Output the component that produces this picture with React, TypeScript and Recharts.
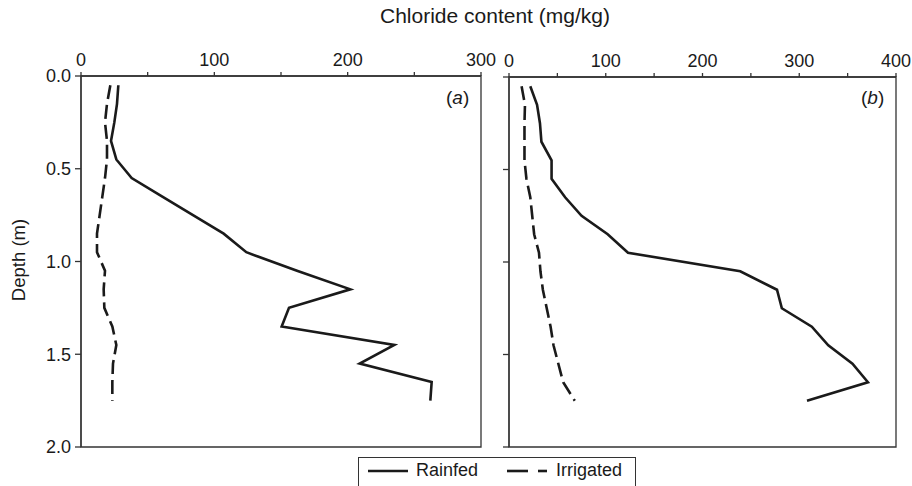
import { LineChart, Line, XAxis, YAxis, ReferenceArea } from 'recharts'

// depth of each sample (m)
const depths = [0.05, 0.15, 0.25, 0.35, 0.45, 0.55, 0.65, 0.75, 0.85, 0.95, 1.05, 1.15, 1.25, 1.35, 1.45, 1.55, 1.65, 1.75]

// chloride content (mg/kg)
const rainfedA = [28, 27, 25, 22.5, 26.5, 38, 61, 84, 107, 124, 162, 202, 156, 150.5, 235, 209, 263, 262]
const irrigatedA = [22, 19.5, 18, 19.5, 19.5, 18, 16, 14, 12, 12, 18, 17, 17.5, 23.5, 26.5, 24, 23.5, 23.5]
const rainfedB = [22, 29, 32, 33.5, 44, 44, 58, 75, 102, 123, 239, 277, 282, 313, 330, 355, 371, 308]
const irrigatedB = [13, 16.5, 16, 16, 16, 18, 22, 24, 26, 31, 32.5, 35, 39, 43, 46, 51, 56, 68]

const depthTicks = [0, 0.5, 1, 1.5, 2]
const ticksA = [0, 50, 100, 150, 200, 250, 300]
const ticksB = [0, 50, 100, 150, 200, 250, 300, 350, 400]

const FONT = '"Liberation Sans", Arial, Helvetica, sans-serif'
const INK = '#1a1a1a'
const AXIS = '#333'

const rowsA = depths.map((d, i) => ({ depth: d, rainfed: rainfedA[i], irrigated: irrigatedA[i] }))
const rowsB = depths.map((d, i) => ({ depth: d, rainfed: rainfedB[i], irrigated: irrigatedB[i] }))

const hundreds = (v: number) => (v % 100 === 0 ? String(v) : '')

function Panel({ rows, ticks, max, showDepth, width, margin }: {
  rows: { depth: number; rainfed: number; irrigated: number }[]
  ticks: number[]
  max: number
  showDepth: boolean
  width: number
  margin: { top: number; right: number; bottom: number; left: number }
}) {
  return (
    <LineChart width={width} height={486} data={rows} layout="vertical" margin={margin} style={{ overflow: 'visible' }}>
      <XAxis
        type="number"
        orientation="top"
        domain={[0, max]}
        ticks={ticks}
        tickFormatter={hundreds}
        interval={0}
        height={30}
        tickSize={4}
        tickMargin={6}
        tick={{ fill: INK, fontSize: 18, fontFamily: FONT }}
        axisLine={{ stroke: AXIS, strokeWidth: 1.3 }}
        tickLine={{ stroke: AXIS, strokeWidth: 1.3 }}
      />
      <YAxis
        type="number"
        dataKey="depth"
        domain={[0, 2]}
        ticks={depthTicks}
        interval={0}
        width={showDepth ? 50 : 10}
        tickFormatter={(v: number) => (showDepth ? v.toFixed(1) : '')}
        tickSize={6}
        tickMargin={4}
        tick={{ fill: INK, fontSize: 18, fontFamily: FONT }}
        axisLine={{ stroke: AXIS, strokeWidth: 1.3 }}
        tickLine={{ stroke: AXIS, strokeWidth: 1.3 }}
      />
      <ReferenceArea x1={0} x2={max} y1={0} y2={2} fill="none" stroke={AXIS} strokeWidth={1.3} />
      <Line dataKey="rainfed" stroke={INK} strokeWidth={2.6} dot={false} isAnimationActive={false} />
      <Line dataKey="irrigated" stroke={INK} strokeWidth={2.6} strokeDasharray="14 6" dot={false} isAnimationActive={false} />
    </LineChart>
  )
}

export default function App() {
  return (
    <div style={{ position: 'absolute', left: 0, top: 0, width: 912, height: 486, background: '#fff', fontFamily: FONT, color: INK, overflow: 'hidden' }}>
      <div style={{ position: 'absolute', left: 0, top: 0 }}>
        <Panel rows={rowsA} ticks={ticksA} max={300} showDepth width={505} margin={{ top: 46, right: 24, bottom: 39, left: 31 }} />
      </div>
      <div style={{ position: 'absolute', left: 490, top: 0 }}>
        <Panel rows={rowsB} ticks={ticksB} max={400} showDepth={false} width={422} margin={{ top: 47, right: 16, bottom: 39, left: 9 }} />
      </div>

      <div style={{ position: 'absolute', left: 380, top: 4, fontSize: 21, whiteSpace: 'nowrap' }}>
        Chloride content (mg/kg)
      </div>
      <div style={{ position: 'absolute', left: 19, top: 260, transform: 'translate(-50%, -50%) rotate(-90deg)', fontSize: 18.5, whiteSpace: 'nowrap' }}>
        Depth (m)
      </div>
      <div style={{ position: 'absolute', left: 446, top: 87, fontSize: 19 }}>(<i>a</i>)</div>
      <div style={{ position: 'absolute', left: 861, top: 87, fontSize: 19 }}>(<i>b</i>)</div>

      <div style={{ position: 'absolute', left: 358, top: 457, width: 278, height: 40, border: `1.3px solid ${AXIS}`, boxSizing: 'border-box', fontSize: 18 }}>
        <svg width={278} height={30} style={{ position: 'absolute', left: 0, top: 0 }}>
          <line x1={9} x2={49} y1={13} y2={13} stroke={INK} strokeWidth={2.6} />
          <line x1={148} x2={169} y1={13} y2={13} stroke={INK} strokeWidth={2.6} />
          <line x1={179} x2={188} y1={13} y2={13} stroke={INK} strokeWidth={2.6} />
        </svg>
        <span style={{ position: 'absolute', left: 57, top: 2 }}>Rainfed</span>
        <span style={{ position: 'absolute', left: 197, top: 2 }}>Irrigated</span>
      </div>
    </div>
  )
}
